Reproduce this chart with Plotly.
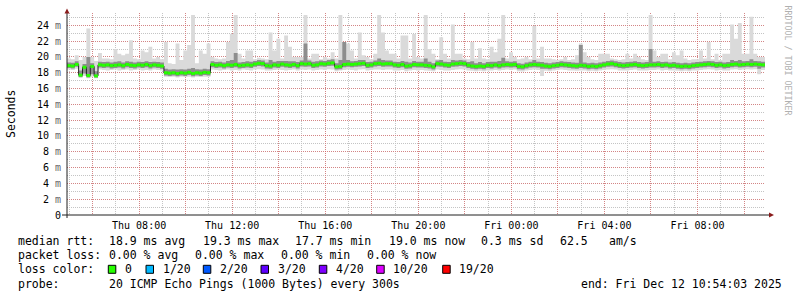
import pandas as pd
import plotly.graph_objects as go

START = "2025-12-11 04:54:03"
END = "2025-12-12 10:54:03"

# 10-minute bins, values in ms
median = [
    18.9, 18.85, 19.05, 17.7, 18.7, 17.65, 18.8, 17.6, 19.0, 18.95,
    19.0, 18.9, 18.95, 19.0, 18.9, 19.05, 18.95, 18.9, 19.0, 18.95,
    19.05, 18.9, 19.0, 18.95, 18.85, 18.0, 17.95, 18.0, 17.9, 18.0,
    17.95, 18.05, 17.9, 18.0, 17.95, 18.05, 18.0, 19.05, 18.95, 19.0,
    18.9, 19.0, 18.95, 19.05, 18.9, 18.95, 19.0, 18.95, 19.1, 19.2,
    19.15, 18.9, 18.85, 19.0, 18.95, 19.1, 19.0, 18.95, 19.05, 18.9,
    19.15, 19.1, 19.15, 18.95, 19.0, 19.15, 19.1, 19.2, 19.25, 18.75,
    18.8, 19.05, 19.1, 19.05, 19.1, 19.15, 19.2, 18.95, 19.0, 19.15,
    19.2, 19.1, 19.15, 19.15, 19.0, 18.95, 19.05, 18.85, 18.9, 19.05,
    19.0, 19.0, 18.95, 18.9, 18.75, 19.15, 19.1, 19.0, 18.95, 19.1,
    19.15, 19.2, 19.15, 18.95, 18.85, 18.8, 18.85, 18.8, 18.95, 18.9,
    19.0, 18.9, 19.0, 19.05, 19.0, 19.05, 18.8, 18.75, 18.9, 19.0,
    19.05, 19.0, 18.95, 18.85, 18.8, 18.9, 18.95, 19.05, 19.0, 18.95,
    18.9, 18.85, 18.95, 18.9, 18.8, 18.85, 18.8, 18.9, 19.0, 19.1,
    19.15, 19.05, 18.95, 18.9, 18.95, 19.0, 19.05, 18.95, 18.9, 18.95,
    19.0, 19.0, 19.05, 18.95, 19.0, 18.9, 18.95, 18.85, 18.8, 18.85,
    18.8, 18.9, 18.95, 19.0, 19.05, 19.1, 19.05, 18.95, 19.0, 18.9,
    18.95, 19.05, 19.1, 19.0, 19.05, 19.1, 19.05, 19.1, 19.05, 19.0,
]

rtt_max = [
    19.8, 19.7, 20.2, 19.6, 20.0, 23.6, 20.0, 19.5, 20.5, 19.8,
    19.8, 19.7, 21.0, 20.4, 20.2, 20.4, 22.1, 19.8, 19.7, 20.8,
    20.6, 21.3, 19.8, 20.0, 19.7, 21.9, 19.2, 19.1, 21.7, 19.6,
    20.8, 21.5, 25.3, 19.2, 20.8, 20.4, 21.7, 20.0, 19.8, 19.7,
    19.8, 21.9, 22.9, 25.3, 20.4, 19.8, 20.8, 20.8, 19.7, 19.9,
    19.8, 19.7, 23.1, 20.8, 22.3, 19.8, 22.7, 21.3, 20.0, 20.0,
    20.0, 25.3, 19.8, 20.4, 20.4, 19.7, 20.0, 19.8, 20.6, 19.8,
    25.3, 21.9, 21.7, 20.8, 19.8, 23.1, 20.2, 20.0, 19.7, 20.4,
    25.3, 23.1, 20.8, 20.4, 20.4, 19.8, 22.7, 22.7, 19.8, 22.9,
    20.0, 19.8, 25.3, 21.0, 20.4, 19.7, 22.5, 20.4, 19.8, 24.1,
    20.4, 20.4, 19.8, 19.7, 21.9, 19.8, 21.1, 19.8, 19.7, 21.3,
    20.6, 22.3, 25.3, 19.8, 20.6, 20.0, 19.7, 19.8, 20.0, 19.7,
    23.9, 19.8, 21.3, 19.8, 19.8, 19.7, 19.6, 19.7, 20.0, 19.6,
    19.7, 20.2, 21.7, 20.6, 20.0, 19.7, 19.6, 20.4, 20.4, 20.4,
    19.8, 19.7, 19.6, 19.7, 20.4, 19.8, 20.4, 20.0, 19.7, 19.6,
    25.3, 20.8, 20.0, 20.4, 20.4, 19.7, 20.6, 20.2, 20.8, 19.8,
    19.6, 19.7, 19.7, 20.8, 19.8, 21.9, 19.7, 20.4, 19.6, 20.4,
    20.4, 24.1, 22.3, 24.3, 20.4, 20.4, 25.1, 20.4, 20.0, 20.0,
]

rtt_min = [
    18.4, 18.35, 18.5, 17.35, 17.6, 17.3, 17.5, 17.3, 18.4, 18.35,
    18.3, 18.35, 18.4, 18.3, 18.35, 18.4, 18.3, 18.35, 18.4, 18.3,
    18.35, 18.3, 18.4, 18.35, 18.3, 17.5, 17.45, 17.5, 17.4, 17.5,
    17.45, 17.5, 17.4, 17.5, 17.45, 17.5, 17.5, 18.4, 18.35, 18.3,
    18.35, 18.4, 18.3, 18.35, 18.3, 18.4, 18.35, 18.3, 18.4, 18.45,
    18.4, 18.3, 18.3, 18.35, 18.4, 18.35, 18.3, 18.35, 18.4, 18.3,
    18.4, 18.35, 18.4, 18.3, 18.35, 18.4, 18.35, 18.45, 18.4, 18.2,
    18.3, 18.35, 18.4, 18.35, 18.3, 18.4, 18.45, 18.3, 18.35, 18.4,
    18.4, 18.35, 18.4, 18.4, 18.3, 18.3, 18.35, 18.2, 18.3, 18.35,
    18.3, 18.35, 18.3, 18.25, 18.2, 18.4, 18.35, 18.3, 18.3, 18.35,
    18.4, 18.45, 18.4, 18.3, 18.25, 18.2, 18.25, 18.2, 18.3, 18.3,
    18.35, 18.3, 18.35, 18.4, 18.35, 18.4, 18.2, 18.15, 18.3, 18.35,
    18.4, 18.35, 17.6, 18.25, 18.2, 18.3, 18.35, 18.4, 18.35, 18.3,
    18.3, 18.25, 18.3, 18.3, 18.2, 18.25, 18.2, 18.3, 18.35, 18.4,
    18.45, 18.4, 18.3, 18.3, 18.3, 18.35, 18.4, 18.3, 18.3, 18.3,
    18.35, 18.35, 18.4, 18.3, 18.35, 18.3, 18.3, 18.25, 18.2, 18.25,
    18.2, 18.3, 18.3, 18.35, 18.4, 18.45, 18.4, 18.3, 18.35, 18.3,
    18.3, 18.4, 18.45, 18.35, 18.4, 18.45, 18.4, 18.45, 17.8, 18.35,
]

p_hi = [
    19.3, 19.25, 19.45, 18.3, 19.1, 20.0, 19.2, 18.2, 19.4, 19.35,
    19.4, 19.3, 19.4, 19.45, 19.3, 19.45, 19.4, 19.3, 19.4, 19.35,
    19.45, 19.35, 19.4, 19.35, 19.3, 18.5, 18.4, 18.45, 18.4, 18.45,
    18.4, 18.5, 18.6, 18.45, 18.4, 18.5, 18.45, 19.45, 19.35, 19.4,
    19.3, 19.5, 19.6, 20.5, 19.3, 19.35, 19.45, 19.4, 19.5, 19.6,
    19.55, 19.3, 19.6, 19.4, 19.5, 19.5, 19.5, 19.45, 19.45, 19.35,
    19.55, 21.7, 19.55, 19.4, 19.45, 19.55, 19.5, 19.6, 19.7, 19.2,
    19.6, 21.9, 19.6, 19.45, 19.5, 19.6, 19.6, 19.35, 19.4, 19.55,
    19.8, 19.6, 19.55, 19.55, 19.4, 19.35, 19.5, 19.4, 19.3, 19.5,
    19.4, 19.4, 19.8, 19.4, 19.2, 19.55, 19.6, 19.4, 19.35, 19.6,
    19.55, 19.6, 19.55, 19.35, 19.45, 19.2, 19.35, 19.2, 19.35, 19.4,
    19.4, 19.5, 19.9, 19.45, 19.4, 19.45, 19.2, 19.15, 19.3, 19.4,
    19.6, 19.4, 19.35, 19.25, 19.2, 19.3, 19.35, 19.45, 19.4, 19.35,
    19.3, 19.25, 21.5, 19.3, 19.2, 19.25, 19.2, 19.3, 19.4, 19.5,
    19.55, 19.45, 19.35, 19.3, 19.35, 19.4, 19.45, 19.35, 19.3, 19.35,
    21.0, 19.4, 19.45, 19.35, 19.4, 19.3, 19.35, 19.25, 19.2, 19.25,
    19.2, 19.3, 19.35, 19.4, 19.45, 19.5, 19.45, 19.35, 19.4, 19.3,
    19.35, 19.6, 19.5, 19.6, 19.45, 19.5, 19.7, 19.5, 19.45, 19.4,
]

p_lo = [
    18.6, 18.55, 18.75, 17.45, 17.9, 17.4, 17.8, 17.4, 18.65, 18.6,
    18.65, 18.55, 18.6, 18.65, 18.55, 18.7, 18.6, 18.55, 18.65, 18.6,
    18.7, 18.55, 18.65, 18.6, 18.5, 17.65, 17.6, 17.65, 17.55, 17.65,
    17.6, 17.7, 17.55, 17.65, 17.6, 17.7, 17.65, 18.7, 18.6, 18.65,
    18.55, 18.65, 18.6, 18.7, 18.55, 18.6, 18.65, 18.6, 18.75, 18.85,
    18.8, 18.55, 18.5, 18.65, 18.6, 18.75, 18.65, 18.6, 18.7, 18.55,
    18.8, 18.75, 18.8, 18.6, 18.65, 18.8, 18.75, 18.85, 18.9, 18.4,
    18.45, 18.7, 18.75, 18.7, 18.75, 18.8, 18.85, 18.6, 18.65, 18.8,
    18.85, 18.75, 18.8, 18.8, 18.65, 18.6, 18.7, 18.5, 18.55, 18.7,
    18.65, 18.65, 18.6, 18.55, 18.4, 18.8, 18.75, 18.65, 18.6, 18.75,
    18.8, 18.85, 18.8, 18.6, 18.5, 18.45, 18.5, 18.45, 18.6, 18.55,
    18.65, 18.55, 18.65, 18.7, 18.65, 18.7, 18.45, 18.4, 18.55, 18.65,
    18.7, 18.65, 18.5, 18.5, 18.45, 18.55, 18.6, 18.7, 18.65, 18.6,
    18.55, 18.5, 18.6, 18.55, 18.45, 18.5, 18.45, 18.55, 18.65, 18.75,
    18.8, 18.7, 18.6, 18.55, 18.6, 18.65, 18.7, 18.6, 18.55, 18.6,
    18.65, 18.65, 18.7, 18.6, 18.65, 18.55, 18.6, 18.5, 18.45, 18.5,
    18.45, 18.55, 18.6, 18.65, 18.7, 18.75, 18.7, 18.6, 18.65, 18.55,
    18.6, 18.7, 18.75, 18.65, 18.7, 18.75, 18.7, 18.75, 18.5, 18.65,
]

x_tick_labels = ["", "Thu 08:00", "", "Thu 12:00", "", "Thu 16:00", "",
                 "Thu 20:00", "", "Fri 00:00", "", "Fri 04:00", "", "Fri 08:00", ""]
y_tick_values = [0, 2, 4, 6, 8, 10, 12, 14, 16, 18, 20, 22, 24]
y_tick_labels = ["0", "2 m", "4 m", "6 m", "8 m", "10 m", "12 m", "14 m",
                 "16 m", "18 m", "20 m", "22 m", "24 m"]

loss_labels = ["0", "1/20", "2/20", "3/20", "4/20", "10/20", "19/20"]
loss_colors = ["#26ff00", "#00b8ff", "#0059ff", "#5e00ff", "#7e00ff", "#dd00ff", "#ff0000"]

stats_rtt = ["18.9 ms avg", "19.3 ms max", "17.7 ms min", "19.0 ms now", "0.3 ms sd", "62.5", "am/s"]
stats_loss = ["0.00 % avg", "0.00 % max", "0.00 % min", "0.00 % now"]
probe_text = "20 ICMP Echo Pings (1000 Bytes) every 300s"
end_text = "end: Fri Dec 12 10:54:03 2025"

# ---------------------------------------------------------------
FONT = "DejaVu Sans Mono"
W, H = 797, 297
L, R, T, B = 67, 765, 13, 215   # plot area in pixels

def px(x):
    return (x - L) / (R - L)

def py(y):
    return (B - y) / (B - T)

times = list(pd.date_range(START, periods=len(median), freq="10min"))
xs = times + [pd.Timestamp(END)]

def ext(v):
    return list(v) + [v[-1]]

fig = go.Figure()
common = dict(mode="lines", hoverinfo="skip", showlegend=False)
fig.add_trace(go.Scatter(x=xs, y=ext(rtt_min), line=dict(width=0, shape="hv"), **common))
fig.add_trace(go.Scatter(x=xs, y=ext(rtt_max), line=dict(width=0, shape="hv"),
                         fill="tonexty", fillcolor="#dadada", **common))
fig.add_trace(go.Scatter(x=xs, y=ext(p_lo), line=dict(width=0, shape="hv"), **common))
fig.add_trace(go.Scatter(x=xs, y=ext(p_hi), line=dict(width=0, shape="hv"),
                         fill="tonexty", fillcolor="#8e8e8e", **common))
fig.add_trace(go.Scatter(x=xs, y=ext(median), line=dict(width=1, shape="hv", color="#202020"), **common))

gx, gy = [], []
for i, m in enumerate(median):
    gx += [xs[i], xs[i + 1], None]
    gy += [m, m, None]
fig.add_trace(go.Scatter(x=gx, y=gy, line=dict(width=3, color=loss_colors[0]), **common))

major_grid = "rgba(225,70,70,0.5)"
minor_grid = "#c4c4c4"
tickvals_x = list(pd.date_range("2025-12-11 06:00", "2025-12-12 10:00", freq="2h"))
# the unit suffix is drawn a little lighter, as rrdtool does
y_ticktext = [s.replace(" m", " <span style='color:#666'>m</span>") for s in y_tick_labels]

fig.update_layout(
    width=W, height=H, autosize=False,
    margin=dict(l=L, r=W - R, t=T, b=H - B, pad=0),
    paper_bgcolor="white", plot_bgcolor="white",
    font=dict(family=FONT, size=10, color="#000"),
    xaxis=dict(
        type="date", range=[START, END],
        tickmode="array", tickvals=tickvals_x, ticktext=x_tick_labels,
        tickfont=dict(family=FONT, size=10, color="#000"),
        ticks="", ticklabelstandoff=3,
        showgrid=True, gridcolor=major_grid, griddash="1px,1px", gridwidth=1,
        minor=dict(dtick=3600000, tick0="2025-12-11 05:00:00", showgrid=True,
                   gridcolor=minor_grid, griddash="1px,1px", gridwidth=1, ticks=""),
        zeroline=False, showline=False, fixedrange=True,
    ),
    yaxis=dict(
        range=[0, 25.56],
        tickmode="array", tickvals=y_tick_values, ticktext=y_ticktext,
        tickfont=dict(family=FONT, size=10, color="#000"),
        ticks="", ticklabelstandoff=5,
        showgrid=True, gridcolor=major_grid, griddash="1px,1px", gridwidth=1,
        minor=dict(dtick=1, showgrid=True, gridcolor=minor_grid,
                   griddash="1px,1px", gridwidth=1, ticks=""),
        zeroline=False, showline=False, fixedrange=True,
    ),
)

AXIS_C = "#202020"
ARROW_C = "#8a1c1c"
shapes = [
    dict(type="line", xref="paper", yref="paper", x0=px(62), x1=px(770), y0=0, y1=0,
         line=dict(color=AXIS_C, width=1)),
    dict(type="line", xref="paper", yref="paper", x0=0, x1=0, y0=py(218), y1=py(11),
         line=dict(color=AXIS_C, width=1)),
    dict(type="path", xref="paper", yref="paper",
         path=f"M {px(67)},{py(8.5)} L {px(64.5)},{py(13.5)} L {px(69.5)},{py(13.5)} Z",
         fillcolor=ARROW_C, line=dict(width=0)),
    dict(type="path", xref="paper", yref="paper",
         path=f"M {px(774)},{py(215)} L {px(769)},{py(212.5)} L {px(769)},{py(217.5)} Z",
         fillcolor=ARROW_C, line=dict(width=0)),
]

annotations = []

def text(s, x, y, size=11.5, color="#000", anchor="left", angle=0):
    annotations.append(dict(text=s, x=px(x), y=py(y), xref="paper", yref="paper",
                            xanchor=anchor, yanchor="middle", showarrow=False,
                            textangle=angle, font=dict(family=FONT, size=size, color=color)))

# axis title and watermark
text("Seconds", 11, 114, anchor="center", angle=-90)
text("RRDTOOL / TOBI OETIKER", 787.5, 60, size=8.3, color="#b0b0b0", anchor="center", angle=90)

LY = [241, 255, 269, 283.5]
text("median rtt:", 16, LY[0])
for s, x in zip(stats_rtt, [107.3, 200.5, 293.3, 386.7, 479.3, 558.3, 607.3]):
    text(s, x, LY[0])
text("packet loss:", 16, LY[1])
for s, x in zip(stats_loss, [107.3, 193.3, 279.3, 365.3]):
    text(s, x, LY[1])
text("loss color:", 16, LY[2])
box_x = [108.3, 146.0, 203.3, 261.0, 319.3, 376.7, 442.7]
for lab, col, bx in zip(loss_labels, loss_colors, box_x):
    shapes.append(dict(type="rect", xref="paper", yref="paper",
                       x0=px(bx), x1=px(bx + 7.5), y0=py(273.3), y1=py(265.3),
                       fillcolor=col, line=dict(color="#000", width=1)))
    text(lab, bx + 14.5, LY[2])
text("probe:", 16, LY[3])
text(probe_text, 107.3, LY[3])
text(end_text, 579, LY[3])

fig.update_layout(shapes=shapes, annotations=annotations)
fig.write_html("out.html", config={"displayModeBar": False, "staticPlot": True})
